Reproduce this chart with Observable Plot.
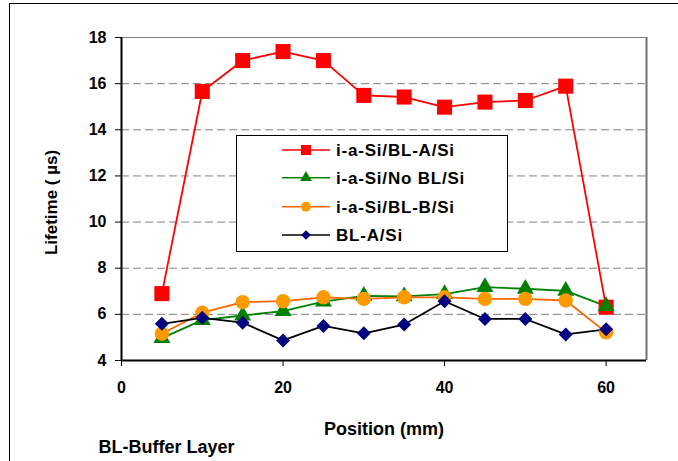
<!DOCTYPE html>
<html><head><meta charset="utf-8">
<script src="https://cdn.jsdelivr.net/npm/d3@7"></script>
<script src="https://cdn.jsdelivr.net/npm/@observablehq/plot@0.6"></script>
<style>
body{margin:0;background:#fff;overflow:hidden;font-family:"Liberation Sans",Arial,sans-serif;}
#wrap{position:relative;width:678px;height:461px;overflow:hidden;}
#border{position:absolute;left:9px;top:3px;width:720px;height:470px;border:1px solid #000;box-sizing:border-box;pointer-events:none;}
#legend{position:absolute;left:236px;top:135px;}
</style>
</head><body>
<div id="wrap"><div id="border"></div></div>
<script>
const positions = [5, 10, 15, 20, 25, 30, 35, 40, 45, 50, 55, 60];
const seriesNames = ["i-a-Si/BL-A/Si", "i-a-Si/No BL/Si", "i-a-Si/BL-B/Si", "BL-A/Si"];
const iaSiBLA = [6.9, 15.66, 17.0, 17.39, 17.0, 15.49, 15.42, 14.98, 15.2, 15.27, 15.89, 6.31];
const iaSiNoBL = [4.97, 5.75, 5.95, 6.14, 6.55, 6.8, 6.78, 6.88, 7.18, 7.11, 7.02, 6.36];
const iaSiBLB = [5.16, 6.07, 6.53, 6.57, 6.74, 6.67, 6.74, 6.74, 6.67, 6.67, 6.6, 5.22];
const blASi = [5.59, 5.85, 5.64, 4.87, 5.5, 5.18, 5.56, 6.57, 5.8, 5.8, 5.13, 5.35];
const xTicks = [0, 20, 40, 60];
const yTicks = [4, 6, 8, 10, 12, 14, 16, 18];
const gridValues = [6, 8, 10, 12, 14, 16];
const xLabel = "Position (mm)";
const yLabel = "Lifetime ( µs)";
const note = "BL-Buffer Layer";

const seriesValues = [iaSiBLA, iaSiNoBL, iaSiBLB, blASi];
const lineColors = ["#FF0000", "#008000", "#FF6600", "#000000"];
const markColors = ["#FF0000", "#008000", "#FF9900", "#000080"];
const symbols = ["square", "triangle", "circle", "diamond2"];
const radii = [8.5, 6.3, 7.2, 6.3];

const rows = seriesNames.map((name, i) => positions.map((p, j) => ({series: name, x: p, y: seriesValues[i][j]})));

const marks = [
  Plot.gridY(gridValues, {stroke: "#808080", strokeOpacity: 1, strokeDasharray: "8,4"}),
  Plot.ruleY([18], {stroke: "#808080", strokeWidth: 1}),
  Plot.ruleX([65], {stroke: "#707070", strokeWidth: 2}),
  Plot.axisY(yTicks, {tickSize: 6, tickPadding: 9, label: null, stroke: "#000"}),
  Plot.axisX(xTicks, {tickSize: 6, tickPadding: 15, label: null, stroke: "#000"}),
  Plot.ruleX([0], {stroke: "#000", strokeWidth: 2}),
  Plot.ruleY([4], {stroke: "#000", strokeWidth: 2}),
];
rows.forEach((data, i) => {
  marks.push(Plot.line(data, {x: "x", y: "y", stroke: lineColors[i], strokeWidth: 1.8}));
});
rows.forEach((data, i) => {
  marks.push(Plot.dot(data, {x: "x", y: "y", symbol: () => symbols[i], fill: markColors[i], stroke: "none", r: radii[i]}));
});
marks.push(Plot.text([yLabel], {frameAnchor: "left", dx: -70, dy: 3.5, rotate: -90, textAnchor: "middle", lineAnchor: "middle", text: d => d, fontSize: 17, fontWeight: "bold", letterSpacing: 0.5}));
marks.push(Plot.text([xLabel], {frameAnchor: "bottom", dy: 69, textAnchor: "middle", lineAnchor: "middle", text: d => d, fontSize: 18, fontWeight: "bold", letterSpacing: 1}));
marks.push(Plot.text([note], {frameAnchor: "bottom-left", dx: -23, dy: 86.5, textAnchor: "start", lineAnchor: "middle", text: d => d, fontSize: 18, fontWeight: "bold", letterSpacing: 0.8}));

const chart = Plot.plot({
  width: 678, height: 461,
  marginLeft: 121, marginTop: 37, marginRight: 32, marginBottom: 101,
  x: {domain: [0, 65]},
  y: {domain: [4, 18]},
  symbol: {type: "identity"},
  style: {fontFamily: "'Liberation Sans', Arial, sans-serif", fontSize: "16px", fontWeight: "bold", color: "#000", background: "#fff", overflow: "visible"},
  marks
});
document.getElementById("wrap").prepend(chart);

// legend
const lw = 272, lh = 117;
const leg = d3.select("#wrap").append("svg").attr("id", "legend").attr("width", lw).attr("height", lh);
leg.append("rect").attr("x", 0.5).attr("y", 0.5).attr("width", lw - 1).attr("height", lh - 1).attr("fill", "#fff").attr("stroke", "#000");
const rowY = [15, 42.7, 71.7, 100];
const legSizes = [100, 60, 75, 60];
seriesNames.forEach((name, i) => {
  const g = leg.append("g").attr("transform", `translate(0,${rowY[i]})`);
  g.append("line").attr("x1", 46).attr("x2", 94).attr("stroke", lineColors[i]).attr("stroke-width", 1.5);
  const sym = [d3.symbolSquare, d3.symbolTriangle, d3.symbolCircle, d3.symbolDiamond2][i];
  g.append("path").attr("d", d3.symbol(sym, legSizes[i])()).attr("transform", "translate(70,0)").attr("fill", markColors[i]);
  g.append("text").attr("x", 100).attr("dy", "0.35em").attr("font-size", 17).attr("font-weight", "bold").attr("letter-spacing", 0.8).attr("font-family", "'Liberation Sans', Arial, sans-serif").text(name);
});
</script>
</body></html>
